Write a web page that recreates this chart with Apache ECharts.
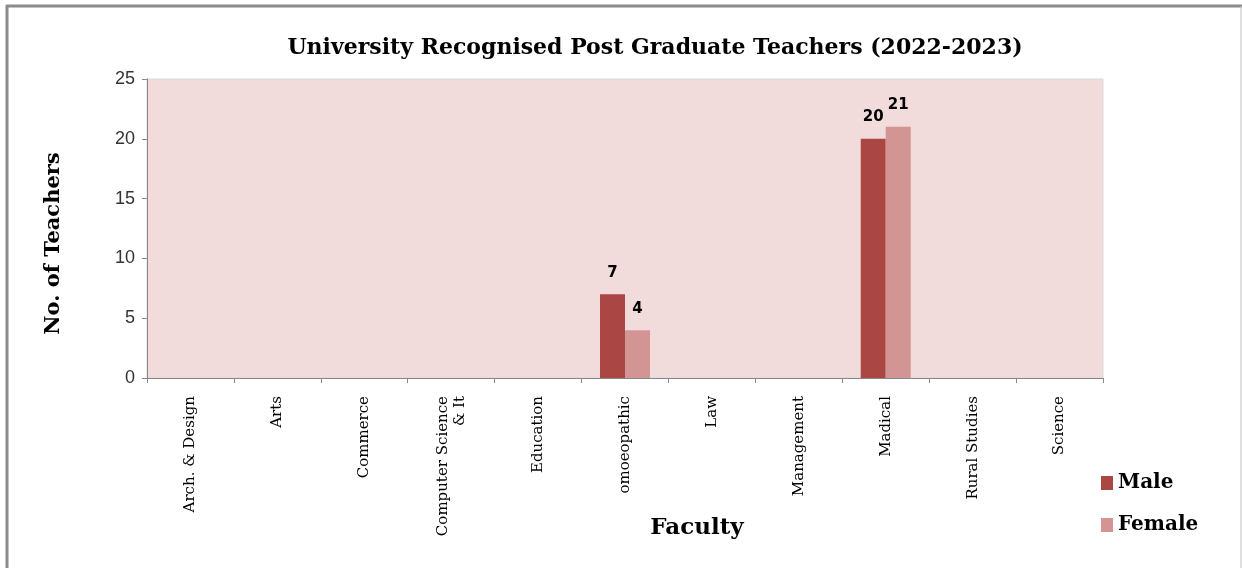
<!DOCTYPE html>
<html><head><meta charset="utf-8">
<script src="https://cdn.jsdelivr.net/npm/echarts@6/dist/echarts.min.js"></script>
<style>html,body{margin:0;padding:0;background:#fff}#c{width:1242px;height:568px}</style>
</head><body><div id="c"></div>
<script>
const categories = ['Arch. & Design','Arts','Commerce','Computer Science\n& It','Education','omoeopathic','Law','Management','Madical','Rural Studies','Science'];
const maleValues = [0,0,0,0,0,7,0,0,20,0,0];
const femaleValues = [0,0,0,0,0,4,0,0,21,0,0];
const yTicks = [0,5,10,15,20,25];

const serif = '"DejaVu Serif", "Liberation Serif", serif';
const chart = echarts.init(document.getElementById('c'));
const lbl = {
  show: true, position: 'top', distance: 14,
  fontFamily: '"DejaVu Sans", sans-serif', fontWeight: 'bold', fontSize: 15, color: '#000',
  formatter: p => p.value === 0 ? '' : p.value
};
chart.setOption({
  animation: false,
  backgroundColor: '#fff',
  title: {
    text: 'University Recognised Post Graduate Teachers (2022-2023)',
    left: 650, top: 32, textAlign: 'center',
    textStyle: {fontFamily: serif, fontWeight: 'bold', fontSize: 22, color: '#000'}
  },
  graphic: [
    {type: 'line', shape: {x1: 6, y1: 6, x2: 1242, y2: 6}, style: {stroke: '#8c8c8c', lineWidth: 3}},
    {type: 'line', shape: {x1: 7, y1: 5, x2: 7, y2: 568}, style: {stroke: '#8c8c8c', lineWidth: 3}},
    {type: 'line', shape: {x1: 1241, y1: 6, x2: 1241, y2: 568}, style: {stroke: '#c0c0c0', lineWidth: 1}}
  ],
  legend: {
    orient: 'vertical', left: 1096, top: 468, itemWidth: 12, itemHeight: 14, itemGap: 22,
    icon: 'rect',
    textStyle: {fontFamily: serif, fontWeight: 'bold', fontSize: 20, color: '#000'},
    data: ['Male', 'Female']
  },
  grid: {left: 147, right: 139, top: 79, bottom: 190, outerBoundsMode: 'none', containLabel: false,
    show: true, backgroundColor: '#F2DCDB', borderColor: '#d9d9d9', borderWidth: 1},
  xAxis: {
    type: 'category', data: categories,
    name: 'Faculty', nameLocation: 'middle', nameGap: 139, nameMoveOverlap: false,
    nameTextStyle: {fontFamily: serif, fontWeight: 'bold', fontSize: 23, color: '#000', padding: [0, 0, 0, 144]},
    axisLine: {lineStyle: {color: '#888'}},
    axisTick: {show: true, length: 5, lineStyle: {color: '#888'}},
    axisLabel: {rotate: 90, interval: 0, margin: 18, fontFamily: serif, fontSize: 15, color: '#000', lineHeight: 17}
  },
  yAxis: {
    type: 'value', min: 0, max: 25, interval: 5,
    name: 'No. of Teachers', nameLocation: 'middle', nameGap: 83, nameRotate: 90, nameMoveOverlap: false,
    nameTextStyle: {fontFamily: serif, fontWeight: 'bold', fontSize: 21, color: '#000', padding: [0, 30, 0, 0]},
    axisLine: {show: true, lineStyle: {color: '#888'}},
    axisTick: {show: true, length: 5, lineStyle: {color: '#888'}},
    splitLine: {show: false},
    axisLabel: {margin: 12, fontFamily: '"Liberation Sans", sans-serif', fontSize: 18, color: '#333',
      formatter: v => yTicks.includes(v) ? String(v) : ''}
  },
  series: [
    {name: 'Male', type: 'bar', data: maleValues, barWidth: 25, barGap: '0%', itemStyle: {color: '#AA4643'}, label: lbl},
    {name: 'Female', type: 'bar', data: femaleValues, barWidth: 25, itemStyle: {color: '#D39594'}, label: lbl}
  ]
});
</script></body></html>
